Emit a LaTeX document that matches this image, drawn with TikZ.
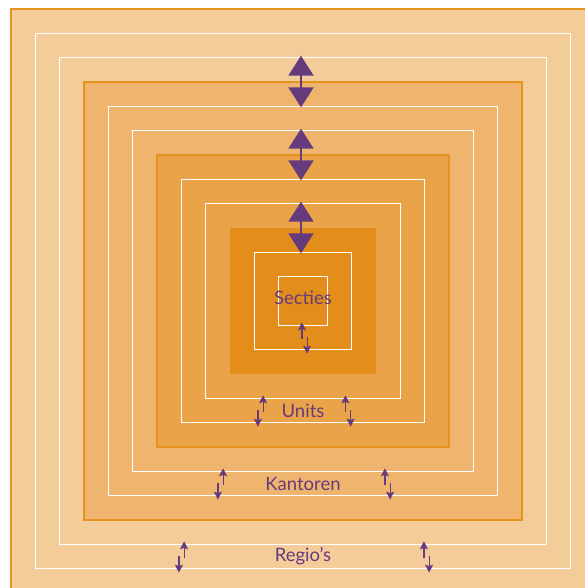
\documentclass[tikz,border=0pt]{standalone}
\usepackage{fontspec}
\setsansfont{Lato}
\usetikzlibrary{arrows.meta}

\definecolor{zoneA}{HTML}{F4CC99}
\definecolor{zoneB}{HTML}{EFB56F}
\definecolor{zoneC}{HTML}{EAA348}
\definecolor{zoneD}{HTML}{E38E1B}
\definecolor{rim}{HTML}{E6921E}
\definecolor{plum}{HTML}{663B7E}

\tikzset{
    level/.style={draw=rim, line width=2.5pt},
    gap/.style={draw=white, line width=1.3pt},
    bigarrow/.style={draw=plum, line width=2pt,
        {Triangle[width=25pt,length=20pt]}-{Triangle[width=25pt,length=20pt]}},
    smallarrow/.style={draw=plum, line width=1.2pt,
        -{Stealth[width=8pt,length=8pt,inset=1.5pt]}},
    tag/.style={text=plum, inner sep=0, font=\sffamily\fontsize{18.5}{18.5}\selectfont}
}

\begin{document}
\begin{tikzpicture}[x=1pt,y=-1pt]
    \useasboundingbox (0,0) rectangle (585,588);
    \clip (0,0) rectangle (585,588);
    \def\s{24.33}
    \begin{scope}[shift={(303,301)}]
    % three bordered bands, then the core
    \foreach \k/\col in {12/zoneA,9/zoneB,6/zoneC}
        \filldraw[level, fill=\col] ({-\k*\s},{-\k*\s}) rectangle ({\k*\s},{\k*\s});
    \fill[zoneD] ({-3*\s},{-3*\s}) rectangle ({3*\s},{3*\s});
    % thin white rings inside each band
    \foreach \k in {11,10,8,7,5,4,2,1}
        \draw[gap] ({-\k*\s},{-\k*\s}) rectangle ({\k*\s},{\k*\s});

    % double arrows across the upper side
    \foreach \k in {10,7,4} {
        \coordinate (top\k) at (-2,{-\k*\s-2});
        \coordinate (bot\k) at (-2,{-(\k-2)*\s+1});
        \draw[bigarrow] (top\k) -- (bot\k);
    }

    \node[tag] (secties)  at (0,-3)            {Secties};
    \node[tag] (units)    at (0,{4.5*\s})      {Units};
    \node[tag] (kantoren) at (0,{7.5*\s})      {Kantoren};
    \node[tag] (regios)   at (0,{10.5*\s})     {Regio’s};

    % small up/down pairs between the rings
    \foreach \k/\px/\sg in {1/1.5/1, 4/-42.5/-1, 4/45/1, 7/-82.5/-1,
                            7/84.5/1, 10/-121.5/-1, 10/123.5/1} {
        \draw[smallarrow] ({\px-2.6*\sg},{(\k+0.5)*\s+2}) -- ({\px-2.6*\sg},{\k*\s-3});
        \draw[smallarrow] ({\px+2.6*\sg},{(\k+0.5)*\s-0.5}) -- ({\px+2.6*\sg},{(\k+1)*\s+4});
    }
    \end{scope}
\end{tikzpicture}
\end{document}
